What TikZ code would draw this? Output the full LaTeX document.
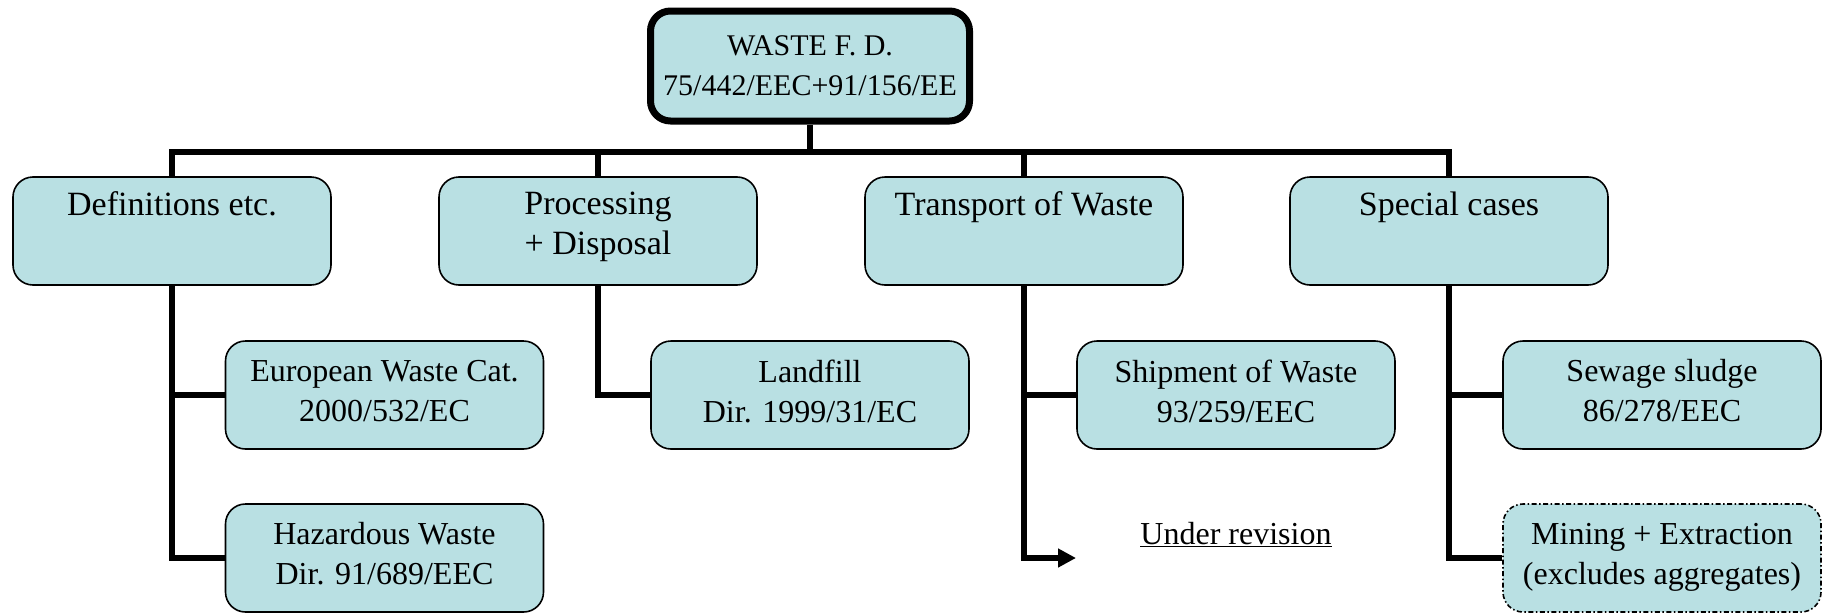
\documentclass[tikz,border=0pt]{standalone}
\usepackage{fontspec}
\setmainfont{Liberation Serif}
\usetikzlibrary{arrows.meta}
\definecolor{boxfill}{HTML}{B9E0E3}

\begin{document}
\begin{tikzpicture}[x=1pt,y=-1pt,
  box/.style={draw=black, fill=boxfill, rounded corners=20pt, minimum width=318pt,
    minimum height=108pt, line width=1.6pt, inner sep=0pt, align=center},
  topbox/.style={box, line width=7pt, minimum width=319pt, minimum height=110pt,
    font=\fontsize{30}{40}\selectfont},
  l1box/.style={box},
  l1text/.style={font=\fontsize{34}{40}\selectfont, align=center, anchor=north,
    inner sep=0pt, yshift=-15.5pt},
  l2box/.style={box, font=\fontsize{32}{40}\selectfont, text depth=8.5pt},
  dashdot/.style={dash pattern=on 5pt off 2.5pt on 1.5pt off 2.5pt},
  conn/.style={line width=6pt},
]
\useasboundingbox (0,0) rectangle (1830,613);

% root
\node[topbox] (top) at (810,66) {WASTE F. D.\\75/442/EEC+91/156/EE};

% first level
\node[l1box, label={[l1text]north:Definitions etc.}] (def) at (172,231) {};
\node[l1box, label={[l1text]north:Processing\\+ Disposal}] (proc) at (598,231) {};
\node[l1box, label={[l1text]north:Transport of Waste}] (trans) at (1024,231) {};
\node[l1box, label={[l1text]north:Special cases}] (spec) at (1449,231) {};

% second level
\node[l2box] (eur)  at (384.5,395) {European Waste Cat.\\2000/532/EC};
\node[l2box] (haz)  at (384.5,558) {Hazardous Waste\\Dir. 91/689/EEC};
\node[l2box] (land) at (810,395)   {Landfill\\Dir. 1999/31/EC};
\node[l2box] (ship) at (1236,395)  {Shipment of Waste\\93/259/EEC};
\node[l2box] (sew)  at (1662,395)  {Sewage sludge\\86/278/EEC};
\node[l2box, dashdot] (mine) at (1662,558) {Mining + Extraction\\(excludes aggregates)};

\node[font=\fontsize{32}{40}\selectfont] (rev) at (1236,535) {\underline{Under revision}};
\coordinate (revtip) at (1076,558);

% tree connectors
\coordinate (bus) at (811,152);
\draw[conn] (top.south) -- (top.south |- bus);
\draw[conn] (def.north) -- (def.north |- bus) -- (spec.north |- bus) -- (spec.north);
\draw[conn] (proc.north) -- (proc.north |- bus);
\draw[conn] (trans.north) -- (trans.north |- bus);

\draw[conn] (def.south) |- (eur.west);
\draw[conn] (def.south) |- (haz.west);
\draw[conn] (proc.south) |- (land.west);
\draw[conn] (trans.south) |- (ship.west);
\draw[conn, -{Triangle[length=18pt,width=18pt]}] (trans.south) |- (revtip);
\draw[conn] (spec.south) |- (sew.west);
\draw[conn] (spec.south) |- (mine.west);
\end{tikzpicture}
\end{document}
